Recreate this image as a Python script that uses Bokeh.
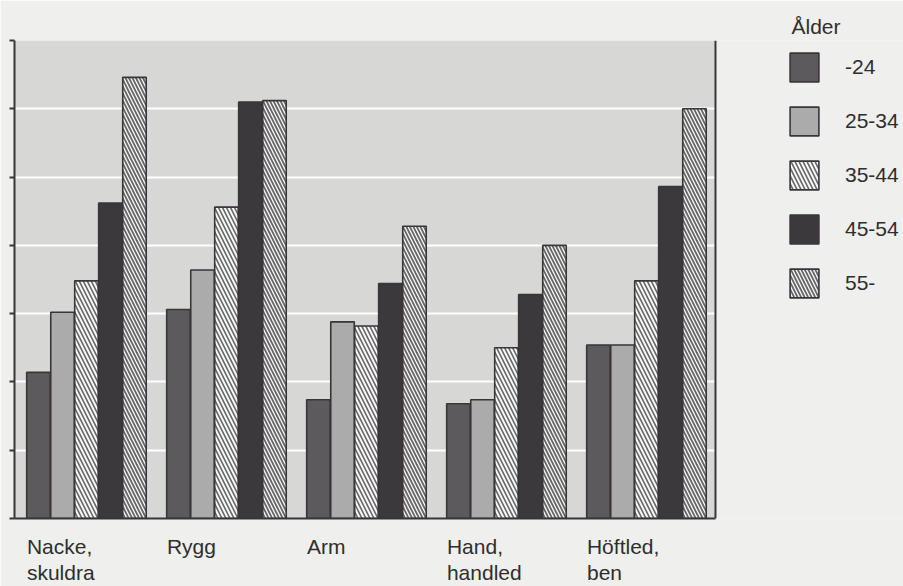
from bokeh.plotting import figure
from bokeh.models import (BoxAnnotation, ColumnDataSource, FixedTicker, LinearAxis,
                          Legend, LegendItem, Range1d, Span)
from bokeh.embed import file_html
from bokeh.resources import INLINE

categories_line1 = ["Nacke,", "Rygg", "Arm", "Hand,", "Höftled,"]
categories_line2 = ["skuldra", "", "", "handled", "ben"]
age_groups = ["-24", "25-34", "35-44", "45-54", "55-"]
v_u24 = [10.7, 15.3, 8.7, 8.4, 12.7]
v_25_34 = [15.1, 18.2, 14.4, 8.7, 12.7]
v_35_44 = [17.4, 22.8, 14.1, 12.5, 17.4]
v_45_54 = [23.1, 30.5, 17.2, 16.4, 24.3]
v_55 = [32.3, 30.6, 21.4, 20.0, 30.0]
series = [v_u24, v_25_34, v_35_44, v_45_54, v_55]
y_ticks = [0, 5, 10, 15, 20, 25, 30, 35]

FONT = "Liberation Sans"
FS_PX = 21
FS = f"{FS_PX}px"
PAPER = "#efefed"
PLOT_BG = "#d7d7d6"
INK = "#3a3539"
TXT = "#2e2e2e"

styles = [
    dict(fill_color="#5c5a5c"),
    dict(fill_color="#ababab"),
    dict(fill_color="#f7f7f7", hatch_pattern="\\", hatch_color="#666666",
         hatch_scale=8, hatch_weight=1.6),
    dict(fill_color="#3b393b"),
    dict(fill_color="#f7f7f7", hatch_pattern="\\", hatch_color="#666666",
         hatch_scale=7, hatch_weight=1.8),
]

X0, X1 = -0.514, 4.493      # extent of the bar area
XEND = 5.836
FIG_W, BORDER_L = 903, 14
PX_PER_UNIT = (FIG_W - BORDER_L) / (XEND - X0)

p = figure(width=FIG_W, height=586, output_backend="svg", toolbar_location=None,
           x_range=Range1d(X0, XEND), y_range=Range1d(0, 35),
           min_border_left=BORDER_L, min_border_top=40, min_border_right=0,
           min_border_bottom=67)
p.background_fill_color = PAPER
p.border_fill_color = PAPER
p.outline_line_color = None

# grey panel behind the bars, right border line
p.add_layout(BoxAnnotation(left=X0, right=X1, bottom=0, top=35, fill_color=PLOT_BG,
                           fill_alpha=1, line_color=None, level="image"))
p.add_layout(Span(location=X1, dimension="height", line_color=INK, line_width=2))

# legend title drawn as the plot title, shifted over the legend column
p.title.text = "Ålder"
p.title.align = "left"
p.title.offset = 777
p.title.standoff = 5
p.title.text_font = FONT
p.title.text_font_size = FS
p.title.text_font_style = "normal"
p.title.text_color = TXT

ncat = len(categories_line1)
offsets = [-0.343, -0.171, 0.0, 0.171, 0.343]
bar_w = 0.168
items = []
for k, (name, vals) in enumerate(zip(age_groups, series)):
    src = ColumnDataSource(dict(x=[i + offsets[k] for i in range(ncat)], top=vals))
    r = p.vbar(x="x", top="top", bottom=0, width=bar_w, source=src,
               line_color=INK, line_width=1.6, **styles[k])
    items.append(LegendItem(label=name, renderers=[r]))

# y axis: ticks only
p.yaxis.ticker = FixedTicker(ticks=y_ticks)
p.yaxis.major_tick_out = 5
p.yaxis.major_tick_in = 0
p.yaxis.minor_tick_line_color = None
p.yaxis.major_label_text_font_size = "0px"
p.yaxis.major_label_standoff = 0
p.yaxis.axis_line_color = INK
p.yaxis.axis_line_width = 2
p.yaxis.major_tick_line_color = INK
p.yaxis.major_tick_line_width = 2

p.ygrid.ticker = FixedTicker(ticks=y_ticks)
p.ygrid.grid_line_color = "white"
p.ygrid.grid_line_width = 2
p.ygrid.cross_bounds = (X0, X1)
p.xgrid.grid_line_color = None

# category labels: left-aligned under each group. Axis tick labels are centred,
# so each tick sits half a (Helvetica-metric) text width right of the left edge.
_W = {"N": .722, "R": .722, "A": .667, "H": .722, "a": .556, "b": .556, "c": .5,
      "d": .556, "e": .556, "f": .278, "g": .556, "h": .556, "k": .5, "l": .222,
      "m": .833, "n": .556, "r": .333, "s": .5, "t": .278, "u": .556, "y": .5,
      "ö": .556, ",": .278}
LEFT = -0.425


def text_w(s):
    return sum(_W.get(ch, .556) for ch in s) * FS_PX / PX_PER_UNIT


def label_ticks(labels):
    return {round(i + LEFT + text_w(s) / 2, 4): s for i, s in enumerate(labels) if s}


ov1 = label_ticks(categories_line1)
ov2 = label_ticks(categories_line2)

xa = p.xaxis[0]
xa.bounds = (X0, X1)
xa.ticker = FixedTicker(ticks=list(ov1))
xa.major_label_overrides = ov1
xa.major_label_text_font = FONT
xa.major_label_text_font_size = FS
xa.major_label_text_color = TXT
xa.major_label_standoff = 16
xa.major_tick_out = 0
xa.major_tick_in = 0
xa.major_tick_line_color = None
xa.minor_tick_line_color = None
xa.axis_line_color = INK
xa.axis_line_width = 2

xa2 = LinearAxis(ticker=FixedTicker(ticks=list(ov2)), major_label_overrides=ov2,
                 major_label_text_font=FONT,
                 major_label_text_font_size=FS, major_label_text_color=TXT,
                 major_label_standoff=0, major_tick_out=0, major_tick_in=0,
                 major_tick_line_color=None, minor_tick_line_color=None,
                 axis_line_color=None)
p.add_layout(xa2, "below")

legend = Legend(items=items, location=(772, 217),
                glyph_width=36, glyph_height=36, spacing=18, label_standoff=23,
                padding=0, margin=0,
                border_line_alpha=0, background_fill_alpha=0,
                label_text_font=FONT, label_text_font_size=FS,
                label_text_color=TXT)
p.add_layout(legend, "center")

open("out.html", "w").write(file_html(p, INLINE))
